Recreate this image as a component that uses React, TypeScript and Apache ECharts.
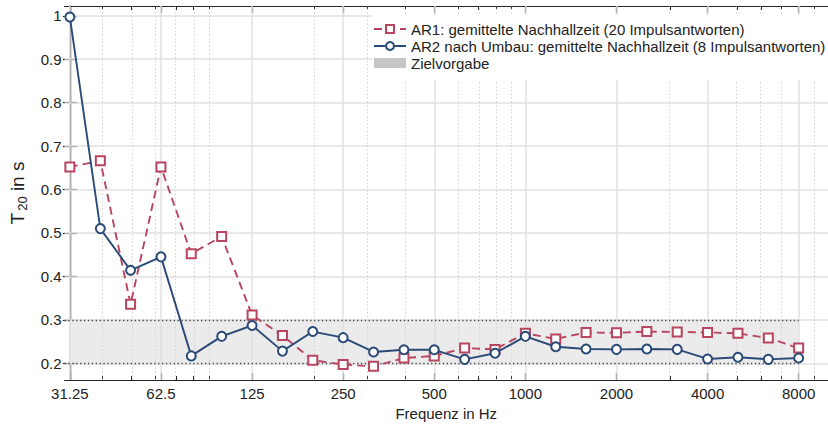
import React, { useEffect, useRef } from 'react';
import * as echarts from 'echarts';

// Third-octave band centre frequencies in Hz
const bandFreqs = [
  31.25, 39.4, 49.6, 62.5, 78.7, 99.2, 125, 157.5, 198.4, 250, 315, 397, 500,
  630, 794, 1000, 1260, 1587, 2000, 2520, 3175, 4000, 5040, 6350, 8000,
];

// Averaged reverberation time T20 in s
const ar1Values = [
  0.652, 0.666, 0.336, 0.652, 0.452, 0.492, 0.311, 0.264, 0.207, 0.197, 0.193,
  0.212, 0.217, 0.235, 0.232, 0.269, 0.256, 0.271, 0.270, 0.273, 0.272, 0.271,
  0.269, 0.258, 0.235,
];
const ar2Values = [
  0.997, 0.510, 0.414, 0.445, 0.217, 0.262, 0.287, 0.228, 0.273, 0.259, 0.226,
  0.231, 0.231, 0.209, 0.223, 0.262, 0.238, 0.233, 0.232, 0.233, 0.232, 0.210,
  0.214, 0.209, 0.212,
];

const ar1Name = 'AR1: gemittelte Nachhallzeit (20 Impulsantworten)';
const ar2Name = 'AR2 nach Umbau: gemittelte Nachhallzeit (8 Impulsantworten)';
const targetName = 'Zielvorgabe';

// Target corridor
const targetT20 = [0.2, 0.3];
const targetFreqs = [31.25, 8000];

// Axes
const freqLimits = [30, 10000];
const t20Limits = [0.1615, 1.0225];
const majorTickFreqs = [31.25, 62.5, 125, 250, 500, 1000, 2000, 4000, 8000];
const majorTickLabels = ['31.25', '62.5', '125', '250', '500', '1000', '2000', '4000', '8000'];
const minorTickFreqs = [40, 50, 60, 70, 80, 90, 200, 300, 400, 600, 700, 800, 900, 3000, 5000, 6000, 7000, 9000];
const yTicks = [0.2, 0.3, 0.4, 0.5, 0.6, 0.7, 0.8, 0.9, 1.0];
const yTickLabels = ['0.2', '0.3', '0.4', '0.5', '0.6', '0.7', '0.8', '0.9', '1'];

const FONT = '"Liberation Sans", Arial, Helvetica, sans-serif';
const RED = '#b8445f';
const BLUE = '#2a4a77';

// frequency axis is linear in octaves relative to 31.25 Hz
const oct = (f: number) => Math.log2(f / 31.25);

export default function App() {
  const ref = useRef<HTMLDivElement>(null);

  useEffect(() => {
    if (!ref.current) return;
    const chart = echarts.init(ref.current, undefined, { renderer: 'svg' });

    const xMin = oct(freqLimits[0]);
    const xMax = oct(freqLimits[1]);
    const majorX = majorTickFreqs.map(oct);
    const minorX = minorTickFreqs.map(oct);

    const baseX = {
      type: 'value' as const,
      min: xMin,
      max: xMax,
      splitLine: { show: false },
      axisLabel: { show: false },
    };

    const tickLabelFor = (v: number) => {
      const i = majorX.findIndex((m) => Math.abs(m - v) < 1e-6);
      return i >= 0 ? majorTickLabels[i] : '';
    };
    const yLabelFor = (v: number) => {
      const i = yTicks.findIndex((m) => Math.abs(m - v) < 1e-6);
      return i >= 0 ? yTickLabels[i] : '';
    };

    const axisLine = { show: true, lineStyle: { color: '#262626', width: 1.2 } };

    chart.setOption({
      animation: false,
      backgroundColor: '#ffffff',
      textStyle: { fontFamily: FONT },
      grid: { left: 60, right: -5, top: 6, bottom: 38 },
      legend: {
        orient: 'vertical',
        left: 372,
        top: 15,
        z: 20,
        padding: [6, 5, 9, 1],
        backgroundColor: '#ffffff',
        itemWidth: 32,
        itemHeight: 10,
        itemGap: 1,
        textStyle: { fontFamily: FONT, fontSize: 15, lineHeight: 16, color: '#222' },
        data: [
          { name: ar1Name },
          { name: ar2Name },
          { name: targetName, icon: 'rect', itemStyle: { color: '#c6c6c6' } },
        ],
      },
      xAxis: [
        {
          ...baseX,
          position: 'bottom',
          axisLine,
          axisTick: { show: true, inside: true, length: 7, customValues: majorX, lineStyle: { color: '#262626', width: 1.2 } },
          axisLabel: {
            show: true,
            customValues: majorX,
            formatter: tickLabelFor,
            fontFamily: FONT,
            fontSize: 15,
            color: '#222',
            margin: 6,
          },
          name: 'Frequenz in Hz',
          nameLocation: 'middle',
          nameGap: 26,
          nameTextStyle: { fontFamily: FONT, fontSize: 15, color: '#222' },
        },
        {
          ...baseX,
          position: 'top',
          axisLine,
          axisTick: { show: true, inside: true, length: 7, customValues: majorX, lineStyle: { color: '#262626', width: 1.2 } },
        },
        {
          ...baseX,
          position: 'bottom',
          axisLine: { show: false },
          axisTick: { show: true, inside: true, length: 4, customValues: minorX, lineStyle: { color: '#262626', width: 1 } },
        },
        {
          ...baseX,
          position: 'top',
          axisLine: { show: false },
          axisTick: { show: true, inside: true, length: 4, customValues: minorX, lineStyle: { color: '#262626', width: 1 } },
        },
      ],
      yAxis: [
        {
          type: 'value',
          min: t20Limits[0],
          max: t20Limits[1],
          position: 'left',
          splitLine: { show: false },
          axisLine,
          axisTick: { show: true, inside: true, length: 7, customValues: yTicks, lineStyle: { color: '#262626', width: 1.2 } },
          axisLabel: {
            show: true,
            customValues: yTicks,
            formatter: yLabelFor,
            fontFamily: FONT,
            fontSize: 15,
            color: '#222',
            margin: 3,
          },
          name: '{t|T}{sub|20}{t| in s}',
          nameLocation: 'middle',
          nameRotate: 90,
          nameGap: 36,
          nameTextStyle: {
            fontFamily: FONT,
            fontSize: 19,
            color: '#222',
            rich: {
              t: { fontFamily: FONT, fontSize: 19, color: '#222' },
              sub: { fontFamily: FONT, fontSize: 13, color: '#222', padding: [9, 0, 0, 2] },
            },
          },
        },
        {
          type: 'value',
          min: t20Limits[0],
          max: t20Limits[1],
          position: 'right',
          splitLine: { show: false },
          axisLine,
          axisLabel: { show: false },
          axisTick: { show: true, inside: true, length: 7, customValues: yTicks, lineStyle: { color: '#262626', width: 1.2 } },
        },
      ],
      series: [
        {
          // target corridor
          name: targetName,
          type: 'line',
          data: [],
          z: 1,
          itemStyle: { color: '#c6c6c6' },
          lineStyle: { color: '#c6c6c6' },
          markArea: {
            silent: true,
            z: 1,
            itemStyle: { color: '#ebebeb' },
            data: [[
              { coord: [oct(targetFreqs[0]), targetT20[0]] },
              { coord: [oct(targetFreqs[1]), targetT20[1]] },
            ]],
          },
        },
        {
          // grid lines
          name: '_grid',
          type: 'line',
          data: [],
          z: 2,
          markLine: {
            silent: true,
            z: 2,
            symbol: ['none', 'none'],
            label: { show: false },
            data: [
              ...majorX.map((x) => ({ xAxis: x, lineStyle: { color: '#e0e0e0', width: 1.5, type: 'solid' } })),
              ...yTicks.map((y) => ({ yAxis: y, lineStyle: { color: '#e0e0e0', width: 1.5, type: 'solid' } })),
              ...minorX.map((x) => ({ xAxis: x, lineStyle: { color: '#c8c8c8', width: 1, type: [1.2, 2.5] } })),
            ],
          },
        },
        {
          // corridor borders
          name: '_corridor',
          type: 'line',
          data: [],
          z: 3,
          markLine: {
            silent: true,
            z: 3,
            symbol: ['none', 'none'],
            label: { show: false },
            lineStyle: { color: '#444', width: 1.3, type: [1.3, 2.6] },
            data: targetT20.map((y) => [
              { coord: [xMin, y] },
              { coord: [oct(targetFreqs[1]), y] },
            ]),
          },
        },
        {
          name: ar1Name,
          type: 'line',
          z: 4,
          data: bandFreqs.map((f, i) => [oct(f), ar1Values[i]]),
          symbol: 'emptyRect',
          symbolSize: 9,
          color: RED,
          lineStyle: { color: RED, width: 1.9, type: [8, 5] },
          itemStyle: { color: RED, borderWidth: 1.7 },
        },
        {
          name: ar2Name,
          type: 'line',
          z: 5,
          data: bandFreqs.map((f, i) => [oct(f), ar2Values[i]]),
          symbol: 'emptyCircle',
          symbolSize: 9,
          color: BLUE,
          lineStyle: { color: BLUE, width: 1.9 },
          itemStyle: { color: BLUE, borderWidth: 1.9 },
        },
      ],
    });

    return () => chart.dispose();
  }, []);

  return (
    <div
      ref={ref}
      style={{ position: 'fixed', left: 0, top: 0, width: 828, height: 426 }}
    />
  );
}
